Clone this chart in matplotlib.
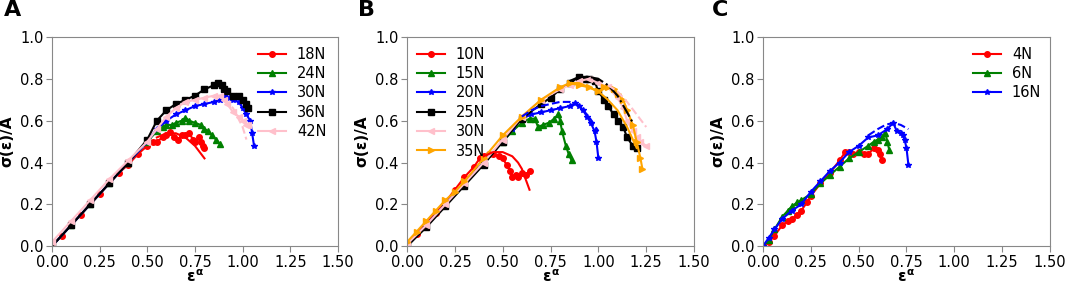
import matplotlib
matplotlib.use("Agg")
import matplotlib.pyplot as plt

plt.rcParams['font.family'] = ['DejaVu Sans']
plt.rcParams['mathtext.fontset'] = 'custom'
plt.rcParams['mathtext.rm'] = 'DejaVu Sans:bold'
plt.rcParams['mathtext.it'] = 'DejaVu Sans:bold'
plt.rcParams['mathtext.bf'] = 'DejaVu Sans:bold'

# ---------------- Panel A ----------------
a_labels = ["18N", "24N", "30N", "36N", "42N"]
a18_x = [0.0, 0.05, 0.1, 0.15, 0.2, 0.25, 0.3, 0.35, 0.4, 0.45, 0.5, 0.53, 0.55, 0.58, 0.6, 0.62, 0.64, 0.66, 0.68, 0.7, 0.72, 0.74, 0.75, 0.77, 0.78, 0.79, 0.8]
a18_y = [0.0, 0.05, 0.1, 0.15, 0.2, 0.25, 0.3, 0.35, 0.39, 0.44, 0.48, 0.5, 0.5, 0.52, 0.53, 0.545, 0.52, 0.51, 0.53, 0.53, 0.54, 0.51, 0.5, 0.52, 0.5, 0.48, 0.47]
a24_x = [0.0, 0.1, 0.2, 0.3, 0.4, 0.5, 0.55, 0.58, 0.6, 0.63, 0.65, 0.68, 0.7, 0.72, 0.75, 0.78, 0.8, 0.82, 0.84, 0.86, 0.88]
a24_y = [0.0, 0.1, 0.2, 0.3, 0.4, 0.5, 0.55, 0.57, 0.58, 0.58, 0.59, 0.6, 0.615, 0.6, 0.59, 0.58, 0.56, 0.55, 0.53, 0.51, 0.49]
a30_x = [0.0, 0.1, 0.2, 0.3, 0.4, 0.5, 0.55, 0.6, 0.65, 0.7, 0.75, 0.8, 0.85, 0.88, 0.9, 0.93, 0.95, 0.98, 1.0, 1.02, 1.04, 1.05, 1.06]
a30_y = [0.0, 0.1, 0.2, 0.3, 0.4, 0.5, 0.56, 0.6, 0.63, 0.65, 0.67, 0.68, 0.69, 0.7, 0.72, 0.71, 0.7, 0.69, 0.66, 0.63, 0.6, 0.54, 0.48]
a36_x = [0.0, 0.1, 0.2, 0.3, 0.4, 0.5, 0.55, 0.6, 0.65, 0.7, 0.75, 0.8, 0.85, 0.87, 0.89, 0.9, 0.92, 0.95, 0.98, 1.0, 1.02, 1.03]
a36_y = [0.0, 0.1, 0.2, 0.3, 0.4, 0.51, 0.6, 0.65, 0.68, 0.7, 0.72, 0.75, 0.77, 0.78, 0.77, 0.75, 0.74, 0.72, 0.72, 0.7, 0.68, 0.66]
a42_x = [0.0, 0.1, 0.2, 0.3, 0.4, 0.5, 0.55, 0.6, 0.65, 0.7, 0.75, 0.8, 0.85, 0.88, 0.9, 0.92, 0.95, 0.98, 1.0, 1.02, 1.03]
a42_y = [0.02, 0.12, 0.22, 0.32, 0.41, 0.5, 0.56, 0.62, 0.66, 0.69, 0.7, 0.71, 0.72, 0.72, 0.7, 0.68, 0.64, 0.62, 0.6, 0.58, 0.58]
a18_fit_x = [0.55, 0.6, 0.65, 0.7, 0.75, 0.8]
a18_fit_y = [0.52, 0.54, 0.54, 0.52, 0.48, 0.42]
a42_fit_x = [0.85, 0.9, 0.95, 1.0, 1.02]
a42_fit_y = [0.72, 0.71, 0.66, 0.57, 0.51]

# ---------------- Panel B ----------------
b_labels = ["10N", "15N", "20N", "25N", "30N", "35N"]
b10_x = [0.0, 0.05, 0.1, 0.15, 0.2, 0.25, 0.3, 0.35, 0.38, 0.4, 0.43, 0.45, 0.48, 0.5, 0.52, 0.54, 0.55, 0.57, 0.58, 0.6, 0.62, 0.64]
b10_y = [0.0, 0.06, 0.11, 0.16, 0.21, 0.27, 0.33, 0.38, 0.42, 0.43, 0.44, 0.44, 0.43, 0.42, 0.39, 0.36, 0.33, 0.34, 0.33, 0.35, 0.34, 0.36]
b10_fit_x = [0.4, 0.45, 0.5, 0.55, 0.58, 0.6, 0.62, 0.64]
b10_fit_y = [0.43, 0.45, 0.45, 0.43, 0.4, 0.37, 0.32, 0.27]
b15_x = [0.0, 0.1, 0.2, 0.3, 0.4, 0.5, 0.55, 0.6, 0.64, 0.667, 0.685, 0.71, 0.74, 0.77, 0.79, 0.8, 0.81, 0.83, 0.845, 0.86]
b15_y = [0.0, 0.1, 0.2, 0.3, 0.4, 0.5, 0.55, 0.59, 0.61, 0.61, 0.57, 0.58, 0.59, 0.61, 0.63, 0.6, 0.55, 0.48, 0.44, 0.41]
b20_x = [0.0, 0.1, 0.2, 0.3, 0.4, 0.5, 0.55, 0.6, 0.65, 0.7, 0.75, 0.8, 0.85, 0.88, 0.9, 0.92, 0.94, 0.96, 0.98, 0.99, 1.0]
b20_y = [0.0, 0.1, 0.2, 0.3, 0.4, 0.5, 0.56, 0.61, 0.63, 0.64, 0.65, 0.66, 0.67, 0.685, 0.67, 0.65, 0.62, 0.59, 0.55, 0.5, 0.42]
b20_fit_x = [0.6, 0.65, 0.7, 0.75, 0.8, 0.85, 0.9, 0.95, 1.0]
b20_fit_y = [0.62, 0.65, 0.67, 0.68, 0.69, 0.69, 0.67, 0.62, 0.55]
b25_x = [0.0, 0.1, 0.2, 0.3, 0.4, 0.5, 0.6, 0.7, 0.75, 0.8, 0.85, 0.9, 0.93, 0.95, 0.98, 1.0, 1.03, 1.05, 1.08, 1.1, 1.13, 1.15, 1.18, 1.2]
b25_y = [0.0, 0.09, 0.19, 0.29, 0.39, 0.5, 0.61, 0.68, 0.71, 0.75, 0.78, 0.81, 0.8, 0.8, 0.79, 0.74, 0.7, 0.67, 0.63, 0.6, 0.57, 0.52, 0.48, 0.47]
b25_fit_x = [0.85, 0.9, 0.95, 1.0, 1.05, 1.1, 1.15, 1.18]
b25_fit_y = [0.79, 0.81, 0.81, 0.8, 0.77, 0.72, 0.64, 0.59]
b30_x = [0.0, 0.1, 0.2, 0.3, 0.4, 0.5, 0.6, 0.7, 0.8, 0.85, 0.9, 0.95, 1.0, 1.05, 1.1, 1.13, 1.15, 1.18, 1.2, 1.22, 1.25]
b30_y = [0.01, 0.1, 0.2, 0.3, 0.4, 0.51, 0.62, 0.7, 0.75, 0.77, 0.79, 0.8, 0.78, 0.76, 0.71, 0.66, 0.6, 0.55, 0.52, 0.5, 0.48]
b30_fit_x = [1.05, 1.1, 1.15, 1.2, 1.25]
b30_fit_y = [0.77, 0.74, 0.69, 0.63, 0.57]
b35_x = [0.0, 0.05, 0.1, 0.15, 0.2, 0.25, 0.3, 0.4, 0.5, 0.6, 0.7, 0.8, 0.85, 0.9, 0.95, 1.0, 1.03, 1.05, 1.08, 1.1, 1.13, 1.15, 1.18, 1.2, 1.22, 1.23]
b35_y = [0.02, 0.07, 0.12, 0.17, 0.22, 0.26, 0.31, 0.42, 0.53, 0.62, 0.7, 0.76, 0.78, 0.77, 0.76, 0.74, 0.76, 0.76, 0.75, 0.73, 0.7, 0.65, 0.58, 0.5, 0.42, 0.37]
b35_fit_x = [0.85, 0.9, 0.95, 1.0, 1.05, 1.1, 1.15, 1.2]
b35_fit_y = [0.78, 0.78, 0.76, 0.74, 0.7, 0.65, 0.57, 0.47]

# ---------------- Panel C ----------------
c_labels = ["4N", "6N", "16N"]
c4_x = [0.0, 0.03, 0.06, 0.1, 0.13, 0.15, 0.18, 0.2, 0.23, 0.25, 0.3, 0.35, 0.4, 0.43, 0.45, 0.47, 0.5, 0.53, 0.55, 0.58, 0.6, 0.61, 0.62]
c4_y = [0.0, 0.02, 0.05, 0.1, 0.12, 0.13, 0.15, 0.17, 0.21, 0.24, 0.3, 0.35, 0.41, 0.45, 0.45, 0.44, 0.45, 0.44, 0.44, 0.47, 0.46, 0.44, 0.41]
c6_x = [0.0, 0.03, 0.06, 0.1, 0.13, 0.15, 0.18, 0.2, 0.25, 0.3, 0.35, 0.4, 0.45, 0.5, 0.55, 0.58, 0.6, 0.62, 0.64, 0.65, 0.66]
c6_y = [0.0, 0.03, 0.08, 0.14, 0.17, 0.19, 0.21, 0.22, 0.25, 0.3, 0.34, 0.38, 0.42, 0.45, 0.48, 0.5, 0.51, 0.52, 0.54, 0.5, 0.46]
c16_x = [0.0, 0.03, 0.06, 0.1, 0.15, 0.2, 0.25, 0.3, 0.35, 0.4, 0.45, 0.5, 0.55, 0.6, 0.65, 0.68, 0.7, 0.72, 0.73, 0.74, 0.75, 0.76]
c16_y = [0.0, 0.04, 0.08, 0.13, 0.17, 0.2, 0.26, 0.31, 0.36, 0.4, 0.45, 0.48, 0.52, 0.53, 0.56, 0.59, 0.55, 0.54, 0.53, 0.51, 0.47, 0.39]
c16_fit_x = [0.55, 0.6, 0.64, 0.68, 0.72, 0.76]
c16_fit_y = [0.53, 0.56, 0.58, 0.59, 0.58, 0.56]

xticks = [0.0, 0.25, 0.5, 0.75, 1.0, 1.25, 1.5]
yticks = [0.0, 0.2, 0.4, 0.6, 0.8, 1.0]

fig = plt.figure(figsize=(10.65, 2.83), dpi=100)
ax_pos = [[0.0488, 0.13, 0.2685, 0.739],
          [0.3822, 0.13, 0.2695, 0.739],
          [0.7164, 0.13, 0.2695, 0.739]]
axes = [fig.add_axes(p) for p in ax_pos]

ms = 4
lw = 1.5

def series(ax, x, y, color, marker, label):
    ax.plot(x, y, color=color, marker=marker, markersize=ms, linewidth=lw, label=label)

leg_kw = dict(frameon=False, fontsize=10.5, handlelength=1.9, labelspacing=0.3,
              handletextpad=0.75, borderaxespad=0.0, borderpad=0.3)

ax = axes[0]
series(ax, a18_x, a18_y, 'red', 'o', a_labels[0])
series(ax, a24_x, a24_y, 'green', '^', a_labels[1])
series(ax, a30_x, a30_y, 'blue', '*', a_labels[2])
series(ax, a36_x, a36_y, 'black', 's', a_labels[3])
series(ax, a42_x, a42_y, 'pink', '<', a_labels[4])
ax.plot(a18_fit_x, a18_fit_y, color='red', linewidth=1.5)
ax.plot(a42_fit_x, a42_fit_y, color='pink', linewidth=1.5, linestyle='--')
ax.legend(loc='upper right', bbox_to_anchor=(0.975, 0.975), **leg_kw)

ax = axes[1]
series(ax, b10_x, b10_y, 'red', 'o', b_labels[0])
series(ax, b15_x, b15_y, 'green', '^', b_labels[1])
series(ax, b20_x, b20_y, 'blue', '*', b_labels[2])
series(ax, b25_x, b25_y, 'black', 's', b_labels[3])
series(ax, b30_x, b30_y, 'pink', '<', b_labels[4])
series(ax, b35_x, b35_y, 'orange', '>', b_labels[5])
ax.plot(b10_fit_x, b10_fit_y, color='red', linewidth=1.5)
ax.plot(b20_fit_x, b20_fit_y, color='blue', linewidth=1.5, linestyle='--')
ax.plot(b25_fit_x, b25_fit_y, color='black', linewidth=1.5, linestyle='-.')
ax.plot(b30_fit_x, b30_fit_y, color='pink', linewidth=1.5, linestyle='--')
ax.plot(b35_fit_x, b35_fit_y, color='orange', linewidth=1.5)
ax.legend(loc='upper left', bbox_to_anchor=(0.02, 0.975), **leg_kw)

ax = axes[2]
series(ax, c4_x, c4_y, 'red', 'o', c_labels[0])
series(ax, c6_x, c6_y, 'green', '^', c_labels[1])
series(ax, c16_x, c16_y, 'blue', '*', c_labels[2])
ax.plot(c16_fit_x, c16_fit_y, color='blue', linewidth=1.5, linestyle='--')
ax.legend(loc='upper right', bbox_to_anchor=(0.985, 0.975), **leg_kw)

for ax, letter, lx in zip(axes, ["A", "B", "C"], [0.004, 0.336, 0.668]):
    ax.set_xlim(0, 1.5)
    ax.set_ylim(0, 1.0)
    ax.set_xticks(xticks)
    ax.set_yticks(yticks)
    ax.set_xticklabels(["%.2f" % t for t in xticks])
    ax.set_yticklabels(["%.1f" % t for t in yticks])
    ax.tick_params(labelsize=10.5, color='#888888', length=4, pad=2)
    for s in ax.spines.values():
        s.set_color('#888888')
    ax.set_xlabel(r'$\varepsilon^{\alpha}$', fontsize=11, labelpad=-1)
    ax.set_ylabel(r'σ(ε)/A', fontsize=11, fontweight='bold', labelpad=4)
    fig.text(lx, 1.0, letter, fontsize=16, fontweight='bold', ha='left', va='top')

fig.savefig("out.png", dpi=100)
